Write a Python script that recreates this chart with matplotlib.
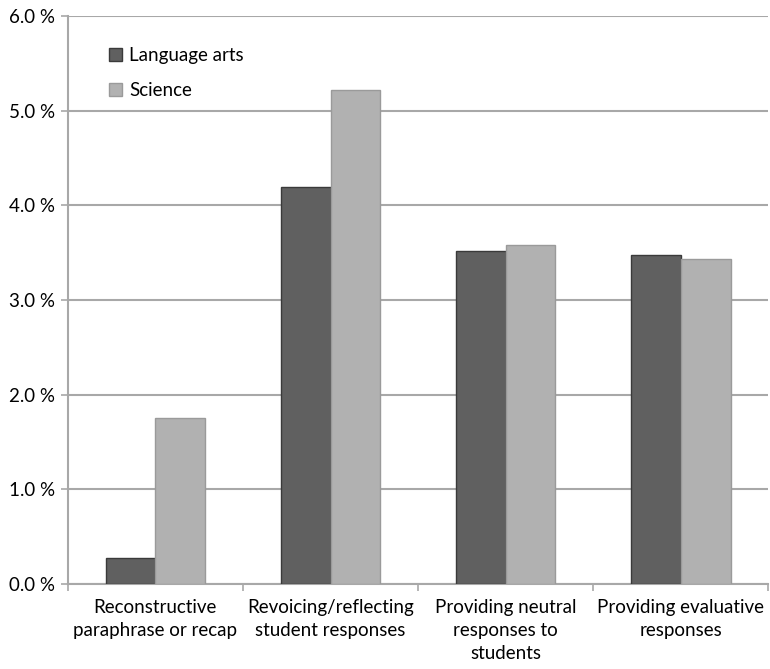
import matplotlib
matplotlib.use("Agg")
from matplotlib import pyplot as plt
from matplotlib.ticker import FuncFormatter, FixedLocator
import numpy as np

categories = [
    "Reconstructive\nparaphrase or recap",
    "Revoicing/reflecting\nstudent responses",
    "Providing neutral\nresponses to\nstudents",
    "Providing evaluative\nresponses",
]
language_arts = [0.27, 4.19, 3.52, 3.48]
science = [1.75, 5.22, 3.58, 3.43]
y_ticks = [0, 1, 2, 3, 4, 5, 6]

plt.rcParams["font.family"] = ["Lato", "DejaVu Sans"]

fig = plt.figure(figsize=(7.7, 6.69), dpi=100)
ax = fig.add_axes([0.088, 0.127, 0.910, 0.849])

x = np.arange(len(categories))
width = 0.284
ax.bar(x - width / 2, language_arts, width, color="#606060", edgecolor="#3a3a3a",
       linewidth=1.0, label="Language arts", zorder=3)
ax.bar(x + width / 2, science, width, color="#b1b1b1", edgecolor="#9a9a9a",
       linewidth=1.0, label="Science", zorder=3)

ax.set_xlim(-0.5, len(categories) - 0.5)
ax.set_ylim(0, 6)
ax.set_yticks(y_ticks)
ax.yaxis.set_major_formatter(FuncFormatter(lambda v, _: f"{v:.1f} %"))
ax.grid(axis="y", color="#a8a8a8", linewidth=1.5, zorder=0)

# category labels centred, tick marks on the boundaries
ax.set_xticks(x)
ax.set_xticklabels(categories, fontsize=13.5, linespacing=1.42)
ax.tick_params(axis="x", length=0, pad=11)
ax.xaxis.set_minor_locator(FixedLocator(np.arange(-0.5, len(categories), 1.0)))
ax.tick_params(axis="x", which="minor", length=5, color="#a8a8a8", width=1.2)
ax.tick_params(axis="y", length=5, color="#a8a8a8", width=1.2, labelsize=13.5, pad=4)

for side in ("top", "right"):
    ax.spines[side].set_visible(False)
for side in ("left", "bottom"):
    ax.spines[side].set_color("#a8a8a8")
    ax.spines[side].set_linewidth(1.5)

ax.legend(loc="upper left", bbox_to_anchor=(0.035, 0.975), frameon=False,
          fontsize=13.5, handlelength=0.7, handleheight=0.7, handletextpad=0.35,
          labelspacing=0.95)

fig.savefig("out.png", dpi=100)
